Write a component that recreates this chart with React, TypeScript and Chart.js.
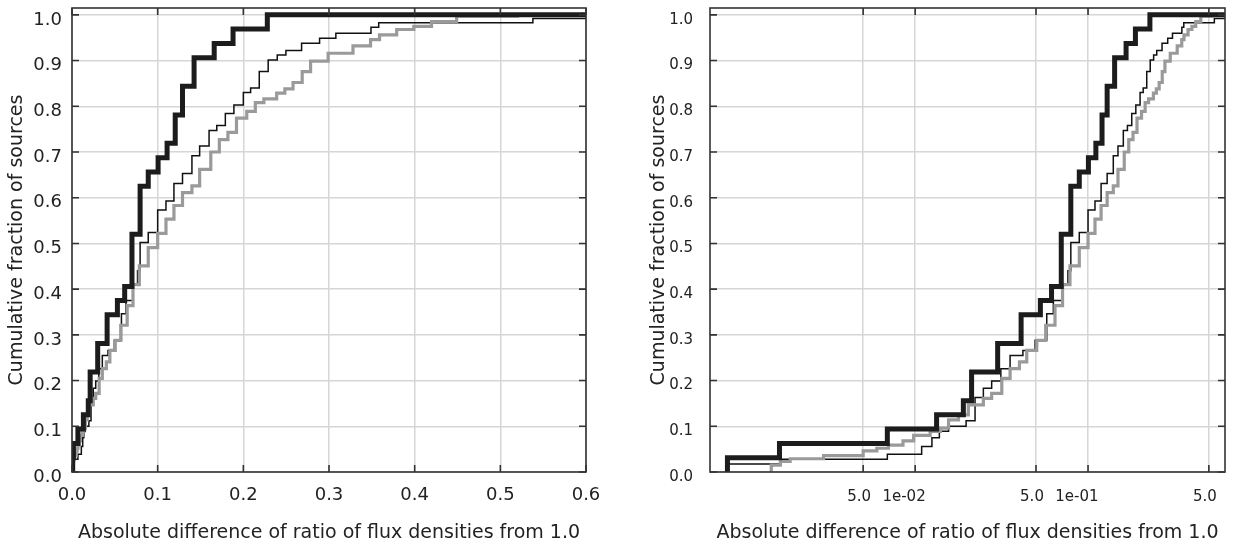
import React, { useEffect, useRef } from 'react';
import { Chart, registerables } from 'chart.js';

Chart.register(...registerables);

// ---------- data ----------
const yTickValues = [0, 0.1, 0.2, 0.3, 0.4, 0.5, 0.6, 0.7, 0.8, 0.9, 1.0];
const linearXTicks = [0, 0.1, 0.2, 0.3, 0.4, 0.5, 0.6];
const logXTicks = [0.005, 0.01, 0.05, 0.1, 0.5];
const logXTickLabels = ['5.0', '1e-02   ', '5.0', '1e-01   ', '5.0'];
const xAxisTitle = 'Absolute difference of ratio of flux densities from 1.0';
const yAxisTitle = 'Cumulative fraction of sources';

const xEnd = 0.62; // last value reached by the curves (right edge)

// thick black sample
const thickX = [0.00082, 0.00164, 0.0069, 0.0133, 0.019, 0.0212, 0.030, 0.041, 0.053, 0.0615, 0.070, 0.0795, 0.089, 0.1005, 0.111, 0.1205, 0.129, 0.1425, 0.166, 0.188, 0.228];
const thickY = [0.031, 0.0625, 0.094, 0.125, 0.156, 0.219, 0.281, 0.344, 0.375, 0.406, 0.52, 0.625, 0.656, 0.6875, 0.719, 0.781, 0.844, 0.906, 0.9375, 0.969, 1.0];

// thin black sample
const thinX = [0.00082, 0.00166, 0.0069, 0.0109, 0.0125, 0.0138, 0.0156, 0.0197, 0.0222, 0.0248, 0.0277, 0.0313, 0.0354, 0.042, 0.0494, 0.0577, 0.063, 0.0714, 0.0765, 0.0795, 0.089, 0.1, 0.1097, 0.119, 0.129, 0.14, 0.149, 0.16, 0.169, 0.179, 0.189, 0.2, 0.2085, 0.2186, 0.229, 0.2396, 0.2497, 0.268, 0.289, 0.308, 0.349, 0.358, 0.538];
const thinY = [0.0175, 0.028, 0.039, 0.056, 0.075, 0.089, 0.1, 0.112, 0.163, 0.183, 0.199, 0.226, 0.255, 0.266, 0.288, 0.346, 0.375, 0.41, 0.44, 0.502, 0.524, 0.573, 0.593, 0.631, 0.653, 0.692, 0.713, 0.747, 0.758, 0.784, 0.803, 0.83, 0.84, 0.876, 0.901, 0.912, 0.922, 0.938, 0.949, 0.96, 0.973, 0.983, 0.992];

// grey sample
const grayX = [0.00147, 0.00166, 0.00189, 0.00295, 0.005, 0.006, 0.007, 0.0085, 0.0098, 0.0122, 0.014, 0.0156, 0.0178, 0.0203, 0.0248, 0.0277, 0.0317, 0.0354, 0.0401, 0.0442, 0.0505, 0.0569, 0.0644, 0.0712, 0.0786, 0.089, 0.1, 0.1097, 0.119, 0.129, 0.14, 0.149, 0.162, 0.172, 0.182, 0.192, 0.204, 0.214, 0.224, 0.2389, 0.2485, 0.258, 0.2687, 0.2785, 0.299, 0.328, 0.3485, 0.359, 0.379, 0.399, 0.4197, 0.449, 0.52];
const grayY = [0.015, 0.023, 0.029, 0.036, 0.046, 0.052, 0.059, 0.068, 0.08, 0.0886, 0.096, 0.114, 0.125, 0.147, 0.161, 0.172, 0.205, 0.226, 0.241, 0.266, 0.288, 0.321, 0.364, 0.41, 0.451, 0.491, 0.522, 0.553, 0.583, 0.611, 0.626, 0.662, 0.7, 0.727, 0.743, 0.774, 0.789, 0.808, 0.816, 0.829, 0.838, 0.852, 0.876, 0.899, 0.916, 0.932, 0.946, 0.956, 0.968, 0.975, 0.985, 0.997, 1.0];

// ---------- helpers ----------
function cdfPoints(xs: number[], ys: number[]) {
  const pts = [{ x: xs[0], y: 0 }];
  xs.forEach((x, i) => pts.push({ x, y: ys[i] }));
  pts.push({ x: xEnd, y: ys[ys.length - 1] });
  return pts;
}

const FONT = '"DejaVu Sans", Verdana, sans-serif';
const TEXT = '#222222';
const GRID = '#d6d6d6';

const frameTicks = {
  id: 'frameTicks',
  afterDatasetsDraw(chart: any) {
    const { ctx, chartArea: a, scales } = chart;
    const xs = scales.x;
    const ys = scales.y;
    ctx.save();
    ctx.strokeStyle = '#333333';
    ctx.lineWidth = 1.6;
    ctx.strokeRect(a.left, a.top, a.right - a.left, a.bottom - a.top);
    const L = 7;
    ctx.beginPath();
    xs.ticks.forEach((t: any) => {
      const p = xs.getPixelForValue(t.value);
      if (p < a.left - 0.5 || p > a.right + 0.5) return;
      ctx.moveTo(p, a.bottom);
      ctx.lineTo(p, a.bottom - L);
      ctx.moveTo(p, a.top);
      ctx.lineTo(p, a.top + L);
    });
    ys.ticks.forEach((t: any) => {
      const p = ys.getPixelForValue(t.value);
      if (p < a.top - 0.5 || p > a.bottom + 0.5) return;
      ctx.moveTo(a.left, p);
      ctx.lineTo(a.left + L, p);
      ctx.moveTo(a.right, p);
      ctx.lineTo(a.right - L, p);
    });
    ctx.stroke();
    ctx.restore();
  },
};

function makeDatasets() {
  return [
    {
      data: cdfPoints(thickX, thickY),
      borderColor: '#1c1c1c',
      borderWidth: 5,
    },
    {
      data: cdfPoints(grayX, grayY),
      borderColor: '#9a9a9a',
      borderWidth: 3.2,
    },
    {
      data: cdfPoints(thinX, thinY),
      borderColor: '#111111',
      borderWidth: 1.5,
    },
  ].map((d) => ({
    ...d,
    stepped: 'before' as const,
    fill: false,
    pointRadius: 0,
    pointHoverRadius: 0,
    tension: 0,
    borderCapStyle: 'butt' as const,
    borderJoinStyle: 'miter' as const,
  }));
}

type Cfg = {
  log: boolean;
  padLeft: number;
  padRight: number;
  yWidth: number;
  tickSize: number;
  yTickPad: number;
  xTickPad: number;
};

function buildConfig(c: Cfg): any {
  return {
    type: 'line',
    data: { datasets: makeDatasets() },
    plugins: [frameTicks],
    options: {
      responsive: false,
      animation: false,
      events: [],
      layout: { padding: { left: c.padLeft, right: c.padRight, top: 8, bottom: 0 } },
      plugins: { legend: { display: false }, tooltip: { enabled: false } },
      scales: {
        x: {
          type: c.log ? 'logarithmic' : 'linear',
          min: c.log ? 0.00065 : 0,
          max: c.log ? 0.62 : 0.6,
          afterBuildTicks: (s: any) => {
            s.ticks = (c.log ? logXTicks : linearXTicks).map((v) => ({ value: v }));
          },
          afterFit: (s: any) => {
            s.height = 72;
            s.paddingLeft = 0;
            s.paddingRight = 0;
          },
          ticks: {
            autoSkip: false,
            maxRotation: 0,
            padding: c.xTickPad,
            labelOffset: c.log ? -4 : 0,
            color: TEXT,
            font: { family: FONT, size: c.tickSize },
            callback: (v: any, i: number) => (c.log ? logXTickLabels[i] : Number(v).toFixed(1)),
          },
          grid: { color: GRID, lineWidth: 1.5, drawTicks: false },
          border: { display: false },
          title: {
            display: true,
            text: xAxisTitle,
            color: TEXT,
            font: { family: FONT, size: 19 },
            padding: { top: 0, bottom: 0 },
          },
        },
        y: {
          type: 'linear',
          min: 0,
          max: 1.015,
          afterBuildTicks: (s: any) => {
            s.ticks = yTickValues.map((v) => ({ value: v }));
          },
          afterFit: (s: any) => {
            s.width = c.yWidth;
            s.paddingTop = 0;
            s.paddingBottom = 0;
          },
          ticks: {
            autoSkip: false,
            padding: c.yTickPad,
            labelOffset: 5,
            color: TEXT,
            font: { family: FONT, size: c.tickSize },
            callback: (v: any) => Number(v).toFixed(1),
          },
          grid: { color: GRID, lineWidth: 1.5, drawTicks: false },
          border: { display: false },
          title: {
            display: true,
            text: yAxisTitle,
            color: TEXT,
            font: { family: FONT, size: 19 },
            padding: { top: 6, bottom: 0 },
          },
        },
      },
    },
  };
}

function CdfChart({ cfg, left }: { cfg: Cfg; left: number }) {
  const ref = useRef<HTMLCanvasElement | null>(null);
  useEffect(() => {
    if (!ref.current) return;
    const chart = new Chart(ref.current, buildConfig(cfg));
    return () => chart.destroy();
  }, []);
  return (
    <canvas
      ref={ref}
      width={618}
      height={544}
      style={{ position: 'absolute', left, top: 0, width: 618, height: 544 }}
    />
  );
}

export default function App() {
  return (
    <div
      style={{
        position: 'fixed',
        left: 0,
        top: 0,
        width: 1236,
        height: 544,
        background: '#ffffff',
        overflow: 'hidden',
      }}
    >
      <CdfChart
        left={0}
        cfg={{ log: false, padLeft: 0, padRight: 32, yWidth: 72, tickSize: 18, yTickPad: 10, xTickPad: 13 }}
      />
      <CdfChart
        left={618}
        cfg={{ log: true, padLeft: 24, padRight: 11, yWidth: 68, tickSize: 15, yTickPad: 17, xTickPad: 16 }}
      />
    </div>
  );
}
